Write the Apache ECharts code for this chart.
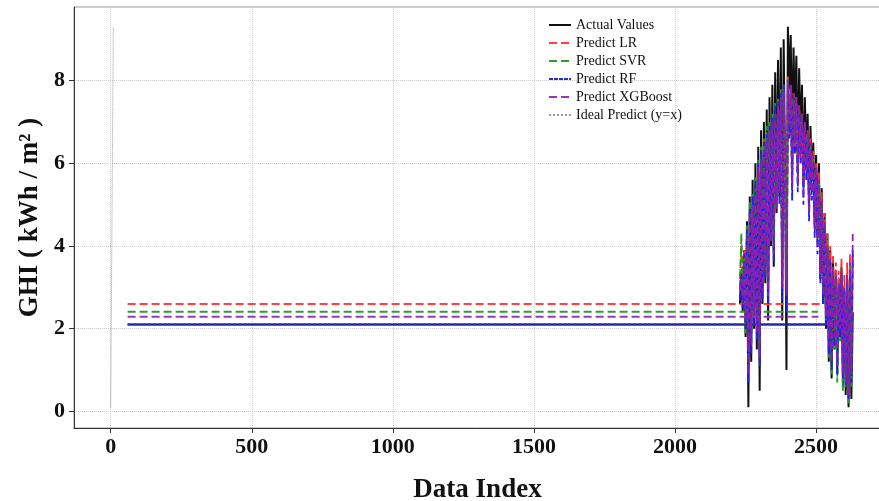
<!DOCTYPE html>
<html>
<head>
<meta charset="utf-8">
<script src="https://cdn.jsdelivr.net/npm/echarts@6/dist/echarts.min.js"></script>
<style>
  html, body { margin: 0; padding: 0; background: #fff; }
  #chart { width: 879px; height: 501px; }
</style>
</head>
<body>
<div id="chart"></div>
<script>
// test-set indices, sampled every 5 points
var startIndex = 2230;
var step = 5;

var actualVals = [2.6,3.4,2.4,3.9,1.8,4.6,0.1,5.2,1.2,5.6,2.0,6.0,1.5,6.4,0.5,6.8,2.6,7.0,3.1,7.3,2.2,7.6,4.0,7.9,3.5,8.2,4.8,8.5,5.2,8.8,2.2,9.0,6.0,1.0,9.3,7.8,9.1,6.5,8.8,7.0,8.6,5.8,8.3,6.6,7.9,5.5,7.6,6.2,7.2,5.0,6.9,5.6,6.5,4.6,6.2,4.2,6.0,3.2,5.4,2.6,4.8,2.0,4.3,1.2,3.9,0.8,3.6,1.5,3.4,0.9,3.2,1.8,3.5,0.6,3.0,0.4,3.1,0.1,3.2,0.3,2.4];
var lrVals = [3.2,4.0,3.1,3.9,2.6,4.3,1.6,4.7,2.0,5.0,2.7,5.3,2.3,5.7,1.9,6.0,3.3,6.2,3.7,6.5,3.2,6.7,4.5,6.9,4.2,7.2,5.3,7.4,5.6,7.6,3.5,7.8,6.0,3.2,8.1,7.0,7.9,5.8,7.7,6.6,7.6,5.9,7.4,6.4,7.2,5.6,7.0,6.1,6.8,5.2,6.6,5.6,6.3,4.8,6.0,4.4,5.8,3.7,5.3,3.2,4.8,2.6,4.3,1.9,4.0,1.5,3.8,2.2,3.6,1.4,3.4,2.3,3.7,1.2,3.3,1.1,3.6,0.9,3.8,1.3,3.7];
var svrVals = [3.0,4.3,2.8,3.7,1.9,4.5,1.3,5.1,1.8,5.3,2.5,5.7,2.0,6.1,1.6,6.4,3.1,6.6,3.5,6.9,3.0,7.0,4.4,7.2,4.0,7.5,5.2,7.6,5.5,7.8,3.2,7.9,5.8,3.0,8.0,6.8,7.8,5.6,7.6,6.5,7.5,5.7,7.3,6.2,7.1,5.4,6.9,5.9,6.7,5.0,6.4,5.4,6.1,4.5,5.8,4.1,5.5,3.4,5.0,2.9,4.5,2.2,4.0,1.3,3.6,0.9,3.4,1.5,3.2,0.7,3.0,1.7,3.3,0.5,2.9,0.6,3.2,0.2,3.5,0.6,3.8];
var rfVals = [2.7,3.3,2.5,3.8,2.0,4.4,0.7,4.9,1.4,5.2,2.1,5.6,1.7,6.0,1.1,6.3,2.7,6.5,3.2,6.7,2.6,6.9,4.3,7.1,3.6,7.4,5.1,7.5,5.0,7.7,2.7,7.9,5.9,2.4,7.8,6.6,7.7,5.1,7.5,6.2,7.4,5.3,7.3,6.0,7.1,5.0,6.9,5.6,6.6,4.6,6.3,5.1,6.0,4.2,5.8,3.8,5.5,3.1,5.0,2.6,4.4,2.1,3.9,1.4,3.6,1.0,3.4,1.6,3.2,0.9,3.0,1.8,3.3,0.8,2.9,0.6,3.1,0.3,3.4,0.7,3.9];
var xgbVals = [2.9,3.2,2.6,3.6,2.2,4.2,0.9,4.8,1.6,5.0,2.3,5.4,1.9,5.9,1.3,6.1,2.9,6.3,3.4,6.6,2.8,6.8,4.1,7.0,3.8,7.2,4.9,7.4,5.3,7.6,3.0,7.8,5.6,2.8,8.0,6.9,7.9,5.4,7.7,6.4,7.6,5.5,7.4,6.1,7.2,5.2,7.0,5.8,6.8,4.8,6.5,5.3,6.2,4.4,5.9,4.0,5.6,3.3,5.1,2.8,4.6,2.3,4.0,1.6,3.7,1.2,3.5,1.8,3.3,1.1,3.1,2.0,3.4,0.9,3.0,0.7,3.3,0.4,3.6,0.9,4.3];

// long flat runs seen before the test block: [from index, to index, value]
var actualFlat = [60, 2540, 2.1];
var lrFlat = [60, 2522, 2.6];
var svrFlat = [60, 2507, 2.41];
var rfFlat = [60, 2540, 2.1];
var xgbFlat = [60, 2508, 2.29];

// y = x reference, from min to max of actual values
var idealVals = [0.1, 9.3];

var names = ['Actual Values', 'Predict LR', 'Predict SVR', 'Predict RF', 'Predict XGBoost', 'Ideal Predict (y=x)'];

function pairs(vals) {
    return vals.map(function (v, i) { return [startIndex + i * step, v]; });
}
function flat(f) {
    return [[f[0], f[2]], [f[1], f[2]]];
}

var font = 'Liberation Serif, Times New Roman, serif';

var chart = echarts.init(document.getElementById('chart'));

function lineSeries(name, data, color, type, width, z) {
    return {
        name: name,
        type: 'line',
        data: data,
        symbol: 'none',
        z: z,
        lineStyle: { color: color, width: width, type: type },
        itemStyle: { color: color }
    };
}

var option = {
    animation: false,
    backgroundColor: '#fff',
    grid: {
        left: 74, right: -2, top: 7, bottom: 73,
        outerBoundsMode: 'none',
        containLabel: false,
        show: true, borderColor: '#999', borderWidth: 1
    },
    legend: {
        data: names,
        orient: 'vertical',
        left: 543,
        top: 13,
        itemWidth: 22,
        itemHeight: 10,
        itemGap: 4,
        itemStyle: { opacity: 0 },
        textStyle: { fontFamily: font, fontSize: 14, color: '#111' }
    },
    xAxis: {
        type: 'value',
        min: -130,
        max: 2730,
        splitNumber: 6,
        name: 'Data Index',
        nameLocation: 'middle',
        nameGap: 49,
        nameTextStyle: { fontFamily: font, fontSize: 27, fontWeight: 'bold', color: '#111' },
        axisLine: { onZero: false, lineStyle: { color: '#333', width: 1 } },
        axisTick: { show: true, length: 5, lineStyle: { color: '#333' } },
        axisLabel: {
            showMinLabel: false, showMaxLabel: false,
            formatter: function (v) { return String(v); },
            fontFamily: font, fontSize: 22, fontWeight: 'bold', color: '#111', margin: 8
        },
        splitLine: { show: true, lineStyle: { color: '#ccc', type: 'dotted' } }
    },
    yAxis: {
        type: 'value',
        min: -0.4,
        max: 9.78,
        splitNumber: 5,
        name: 'GHI ( kWh / m² )',
        nameLocation: 'middle',
        nameGap: 30,
        nameTextStyle: { fontFamily: font, fontSize: 27, fontWeight: 'bold', color: '#111' },
        axisLine: { show: true, onZero: false, lineStyle: { color: '#333', width: 1 } },
        axisTick: { show: true, length: 5, lineStyle: { color: '#333' } },
        axisLabel: {
            showMinLabel: false, showMaxLabel: false,
            formatter: function (v) { return String(v); },
            fontFamily: font, fontSize: 22, fontWeight: 'bold', color: '#111', margin: 9
        },
        splitLine: { show: true, lineStyle: { color: '#ccc', type: 'dotted' } }
    },
    series: [
        lineSeries(names[0], flat(actualFlat), '#111', 'solid', 2, 2),
        lineSeries(names[0], pairs(actualVals), '#111', 'solid', 2, 2),
        lineSeries(names[1], flat(lrFlat), '#ff4040', 'dashed', 2, 3),
        lineSeries(names[1], pairs(lrVals), '#ff3030', 'dashed', 1.8, 3),
        lineSeries(names[2], flat(svrFlat), '#2ca02c', 'dashed', 2, 4),
        lineSeries(names[2], pairs(svrVals), '#1f9a1f', 'dashed', 1.8, 4),
        lineSeries(names[3], flat(rfFlat), '#2b2bd9', [4, 1], 2, 5),
        lineSeries(names[3], pairs(rfVals), '#2222ee', 'dashed', 1.8, 5),
        lineSeries(names[4], flat(xgbFlat), '#9a35c0', 'dashed', 2, 6),
        lineSeries(names[4], pairs(xgbVals), '#8a1fb0', 'dashed', 1.8, 6),
        lineSeries(names[5], [[idealVals[0], idealVals[0]], [idealVals[1], idealVals[1]]], '#999', 'dotted', 1, 1)
    ]
};

chart.setOption(option);
window.addEventListener('resize', function () {
    chart.resize();
});
</script>
</body>
</html>
